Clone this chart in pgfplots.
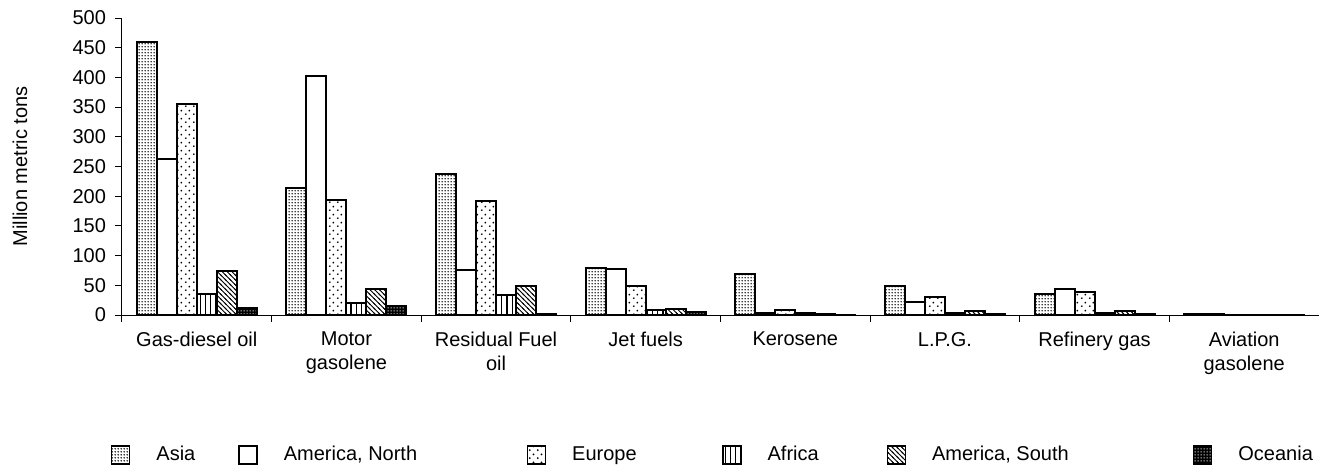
\documentclass[border=0pt]{standalone}
\usepackage{fontspec}
\setmainfont{Liberation Sans}
\usepackage{pgfplots}
\usepackage{pgfplotstable}
\pgfplotsset{compat=1.18}
\usetikzlibrary{patterns}

\pgfdeclarepatternformonly{asiadots}{\pgfpointorigin}{\pgfpoint{1.5pt}{1.5pt}}{\pgfpoint{1.5pt}{1.5pt}}{%
  \pgfpathcircle{\pgfpoint{0.75pt}{0.75pt}}{0.5pt}\pgfusepath{fill}}
\pgfdeclarepatternformonly{eurdots}{\pgfpointorigin}{\pgfpoint{4pt}{4pt}}{\pgfpoint{4pt}{4pt}}{%
  \pgfpathcircle{\pgfpoint{1pt}{1pt}}{0.55pt}\pgfusepath{fill}
  \pgfpathcircle{\pgfpoint{3pt}{3pt}}{0.55pt}\pgfusepath{fill}}
\pgfdeclarepatternformonly{afrlines}{\pgfpoint{0pt}{-0.5pt}}{\pgfpoint{2.6pt}{1.5pt}}{\pgfpoint{2.6pt}{1pt}}{%
  \pgfsetlinewidth{0.55pt}\pgfpathmoveto{\pgfpoint{1.3pt}{-0.5pt}}\pgfpathlineto{\pgfpoint{1.3pt}{1.5pt}}\pgfusepath{stroke}}
\pgfdeclarepatternformonly{samlines}{\pgfpoint{-0.5pt}{-0.5pt}}{\pgfpoint{2.9pt}{2.9pt}}{\pgfpoint{2.4pt}{2.4pt}}{%
  \pgfsetlinewidth{0.45pt}\pgfpathmoveto{\pgfpoint{-0.5pt}{2.9pt}}\pgfpathlineto{\pgfpoint{2.9pt}{-0.5pt}}\pgfusepath{stroke}}
\pgfdeclarepatternformonly{ocedots}{\pgfpointorigin}{\pgfpoint{1.5pt}{1.5pt}}{\pgfpoint{1.5pt}{1.5pt}}{%
  \pgfpathrectangle{\pgfpoint{0.45pt}{0.45pt}}{\pgfpoint{0.6pt}{0.6pt}}\pgfusepath{fill}}

\pgfplotstableread{
x asia nam eur afr sam oce
0 459 262 355 35 74 12
1 214 403 194 21 44 15
2 238 76 192 33 48 2
3 79 78 49 8 10 5
4 69 4 8 3 1.2 0.5
5 48 22 30 3 7 1
6 35 44 39 3 7 1
7 1 1 0.3 0.2 0.3 0.2
}\datatable

\pgfplotsset{mylegend/.style={legend image code/.code={\draw[##1,line width=0.7pt] (0pt,-4.5pt) rectangle (9pt,4.5pt);}}}

\begin{document}
\begin{tikzpicture}
\path[use as bounding box] (-61pt,-76pt) rectangle (598.5pt,157.5pt);
\begin{axis}[
  at={(0pt,0pt)}, anchor=south west,
  scale only axis, width=598.5pt, height=148.5pt,
  ybar=0pt, bar width=10pt,
  xmin=-0.5, xmax=7.5, ymin=0, ymax=500,
  ytick={0,50,...,500},
  xtick={-0.5,0.5,...,7.5},
  xticklabels={},
  extra x ticks={0,1,2,3,4,5,6,7},
  extra x tick labels={{Gas-diesel oil},{Motor\\gasolene},{Residual Fuel\\oil},{Jet fuels},{Kerosene},{L.P.G.},{Refinery gas},{Aviation\\gasolene}},
  extra x tick style={major tick length=0pt},
  axis x line*=bottom, axis y line*=left,
  axis line style={line width=0.5pt},
  tick align=outside,
  major tick length=3.5pt,
  tick style={line width=0.5pt, black},
  xticklabel style={align=center, yshift=-5pt},
  yticklabel style={xshift=-1pt},
  /pgf/number format/assume math mode=true,
  ylabel={Million metric tons},
  every axis y label/.style={at={(axis description cs:-0.0852,0.5)}, rotate=90, anchor=center},
  legend columns=6,
  legend style={at={(axis description cs:-0.0095,-0.4714)}, anchor=west, draw=none, column sep=0pt, inner sep=0pt, nodes={inner sep=0pt, anchor=west}},
  every axis plot/.append style={draw=black, line width=1pt},
]
\addplot[mylegend, pattern=asiadots, pattern color=black] table[x=x,y=asia]{\datatable};
\addlegendentry{\hspace*{13pt}\makebox[41pt][l]{Asia}}
\addplot[mylegend, fill=white] table[x=x,y=nam]{\datatable};
\addlegendentry{\hspace*{13pt}\makebox[121.5pt][l]{America, North}}
\addplot[mylegend, pattern=eurdots, pattern color=black] table[x=x,y=eur]{\datatable};
\addlegendentry{\hspace*{13pt}\makebox[75pt][l]{Europe}}
\addplot[mylegend, pattern=afrlines, pattern color=black] table[x=x,y=afr]{\datatable};
\addlegendentry{\hspace*{13pt}\makebox[59.5pt][l]{Africa}}
\addplot[mylegend, pattern=samlines, pattern color=black] table[x=x,y=sam]{\datatable};
\addlegendentry{\hspace*{13pt}\makebox[130.5pt][l]{America, South}}
\addplot[mylegend, fill=black, postaction={pattern=ocedots, pattern color=white}] table[x=x,y=oce]{\datatable};
\addlegendentry{\hspace*{13pt}\makebox[40pt][l]{Oceania}}
\end{axis}
\end{tikzpicture}
\end{document}
